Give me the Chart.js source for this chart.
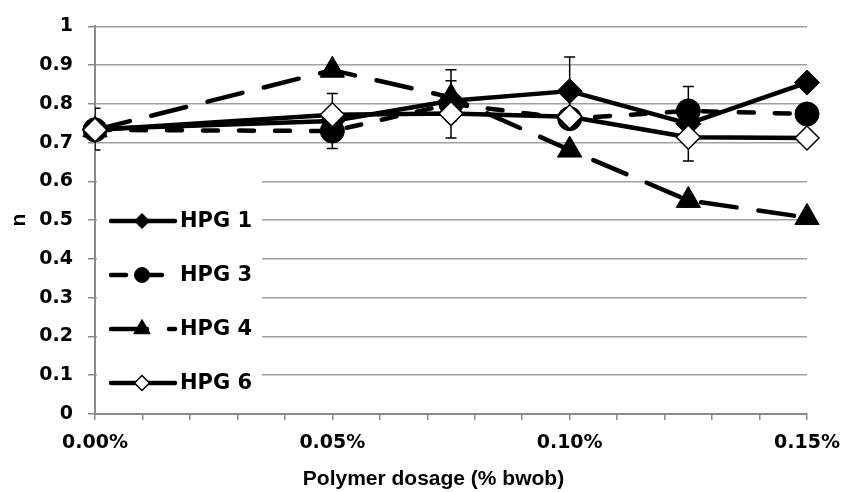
<!DOCTYPE html>
<html>
<head>
<meta charset="utf-8">
<script src="https://cdn.jsdelivr.net/npm/chart.js@4/dist/chart.umd.min.js"></script>
<style>
  html, body { margin: 0; padding: 0; background: #fff; }
  #wrap { width: 843px; height: 492px; }
</style>
</head>
<body>
<div id="wrap"><canvas id="c" width="843" height="492"></canvas></div>
<script>
// Polymer dosage (% bwob) at which n was measured
const dosages = [0, 0.05, 0.075, 0.10, 0.125, 0.15];

// Flow behaviour index n per polymer
const hpg1 = [0.735, 0.756, 0.808, 0.833, 0.749, 0.855];
const hpg3 = [0.733, 0.730, 0.800, 0.762, 0.782, 0.774];
const hpg4 = [0.733, 0.887, 0.817, 0.681, 0.551, 0.507];
const hpg6 = [0.733, 0.772, 0.775, 0.767, 0.714, 0.712];

// Standard deviations (0 = no bar)
const hpg1Err = [0.054, 0.071, 0.052, 0.088, 0.096, 0];
const hpg3Err = [0, 0, 0.088, 0, 0, 0];

const seriesNames = ['HPG 1', 'HPG 3', 'HPG 4', 'HPG 6'];
const xTickLabels = ['0.00%', '0.05%', '0.10%', '0.15%'];
const xTickValues = [0, 0.05, 0.10, 0.15];

const TICK_FONT = '"DejaVu Sans", Verdana, sans-serif';
const TITLE_FONT = '"Liberation Sans", Arial, sans-serif';
const AXIS_GREY = '#8a8a8a';
const GRID_GREY = '#a0a0a0';

const pts = arr => dosages.map((d, i) => ({ x: d, y: arr[i] }));

// Vertical error bars, drawn under each series' own markers
const errorBars = {
  id: 'errorBars',
  beforeDatasetDraw(chart, args) {
    const ds = chart.data.datasets[args.index];
    if (!ds.errors) return;
    const { ctx, chartArea: a } = chart;
    const ys = chart.scales.y;
    ctx.save();
    ctx.beginPath();
    ctx.rect(a.left, a.top - 20, a.right - a.left, a.bottom - a.top + 20);
    ctx.clip();
    ctx.strokeStyle = '#000';
    ctx.lineWidth = 1.5;
    ctx.setLineDash([]);
    args.meta.data.forEach((p, j) => {
      const e = ds.errors[j];
      if (!e) return;
      const v = ds.data[j].y;
      const top = ys.getPixelForValue(v + e);
      const bot = ys.getPixelForValue(v - e);
      ctx.beginPath();
      ctx.moveTo(p.x, top); ctx.lineTo(p.x, bot);
      ctx.moveTo(p.x - 5.5, top); ctx.lineTo(p.x + 5.5, top);
      ctx.moveTo(p.x - 5.5, bot); ctx.lineTo(p.x + 5.5, bot);
      ctx.stroke();
    });
    ctx.restore();
  }
};

// Legend placed inside the plot, lower left, on a white panel
const insetLegend = {
  id: 'insetLegend',
  afterDatasetsDraw(chart) {
    const { ctx } = chart;
    ctx.save();
    ctx.fillStyle = '#fff';
    ctx.fillRect(97, 179, 165, 233);
    chart.data.datasets.forEach((ds, i) => {
      const y = 221 + i * 54;
      ctx.save();
      ctx.strokeStyle = ds.borderColor;
      ctx.lineWidth = 4.5;
      ctx.lineCap = 'round';
      ctx.setLineDash(ds.borderDash || []);
      ctx.beginPath();
      ctx.moveTo(111, y); ctx.lineTo(175, y);
      ctx.stroke();
      ctx.restore();
      ctx.save();
      ctx.setLineDash([]);
      ctx.fillStyle = ds.pointBackgroundColor;
      ctx.strokeStyle = ds.pointBorderColor;
      ctx.lineWidth = ds.pointBorderWidth;
      Chart.helpers.drawPoint(ctx, {
        pointStyle: ds.pointStyle,
        rotation: 0,
        radius: ds.pointStyle === 'triangle' ? 9.5 : 7.5,
        borderWidth: ds.pointBorderWidth
      }, 142, y);
      ctx.restore();
      ctx.fillStyle = '#000';
      ctx.font = 'bold 21px ' + TICK_FONT;
      ctx.textBaseline = 'middle';
      ctx.textAlign = 'left';
      ctx.fillText(ds.label, 180, y + 1);
    });
    ctx.restore();
  }
};

const common = { borderColor: '#000', borderWidth: 4.5, tension: 0, clip: false,
  borderCapStyle: 'round', borderJoinStyle: 'round', pointBorderColor: '#000' };

new Chart(document.getElementById('c'), {
  type: 'line',
  data: {
    datasets: [
      { ...common, label: seriesNames[0], data: pts(hpg1), errors: hpg1Err, order: 3,
        pointStyle: 'rectRot', pointRadius: 12.5, pointBackgroundColor: '#000', pointBorderWidth: 1 },
      { ...common, label: seriesNames[1], data: pts(hpg3), errors: hpg3Err, order: 2,
        borderDash: [15, 21], pointStyle: 'circle', pointRadius: 12,
        pointBackgroundColor: '#000', pointBorderWidth: 1 },
      { ...common, label: seriesNames[2], data: pts(hpg4), order: 1,
        borderDash: [36, 22], pointStyle: 'triangle', pointRadius: 14,
        pointBackgroundColor: '#000', pointBorderWidth: 1 },
      { ...common, label: seriesNames[3], data: pts(hpg6), order: 0,
        pointStyle: 'rectRot', pointRadius: 12, pointBackgroundColor: '#fff', pointBorderWidth: 1.5 }
    ]
  },
  options: {
    responsive: false,
    animation: false,
    devicePixelRatio: 1,
    layout: { padding: { top: 20, right: 36, left: 0, bottom: 0 } },
    plugins: { legend: { display: false }, tooltip: { enabled: false } },
    scales: {
      x: {
        type: 'linear', min: 0, max: 0.15,
        afterFit: s => { s.height = 78; },
        border: { color: AXIS_GREY, width: 2 },
        grid: { drawOnChartArea: false, drawTicks: true, tickLength: 6, color: AXIS_GREY, lineWidth: 1.5 },
        ticks: {
          stepSize: 0.01, autoSkip: false, maxRotation: 0, padding: 2, color: '#000',
          font: { family: TICK_FONT, size: 19, weight: 'bold', lineHeight: 2.2 },
          callback: v => {
            const k = xTickValues.findIndex(t => Math.abs(t - v) < 1e-6);
            return k >= 0 ? xTickLabels[k] : '';
          }
        },
        title: { display: true, text: 'Polymer dosage (% bwob)      ', color: '#000',
          font: { family: TITLE_FONT, size: 21, weight: 'bold' }, padding: { top: 0, bottom: 0.5 } }
      },
      y: {
        min: 0, max: 1,
        afterFit: s => { s.width = 95; },
        border: { color: AXIS_GREY, width: 2 },
        grid: { color: GRID_GREY, lineWidth: 1.5, drawTicks: true, tickLength: 7, tickColor: AXIS_GREY },
        ticks: {
          stepSize: 0.1, padding: 15, color: '#000',
          font: { family: TICK_FONT, size: 19, weight: 'bold' },
          callback: v => String(Number(v.toFixed(1)))
        },
        title: { display: true, text: 'n', color: '#000',
          font: { family: TITLE_FONT, size: 21, weight: 'bold' }, padding: { top: 7, bottom: 0 } }
      }
    }
  },
  plugins: [errorBars, insetLegend]
});
</script>
</body>
</html>
